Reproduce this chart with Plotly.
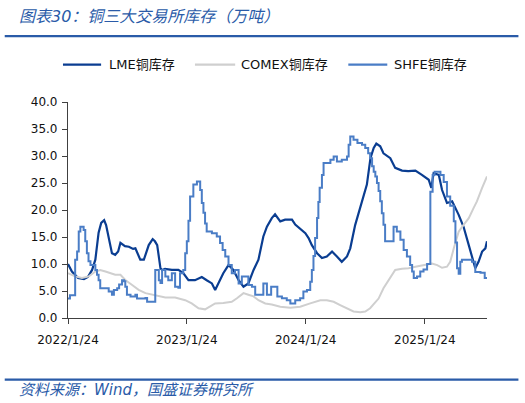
import plotly.graph_objects as go

# ---------------- data (万吨) ----------------
lme_dates = ["2022-01-24","2022-02-05","2022-02-24","2022-03-14","2022-03-26","2022-04-08","2022-04-18","2022-04-28",
             "2022-05-06","2022-05-15","2022-05-21","2022-05-29","2022-06-08","2022-06-18","2022-06-27","2022-07-04",
             "2022-07-18","2022-07-30","2022-08-12","2022-08-19","2022-08-27","2022-09-03","2022-09-14","2022-09-21",
             "2022-09-29","2022-10-11","2022-10-18","2022-10-25","2022-11-04","2022-11-09","2022-11-18","2022-12-09",
             "2022-12-29","2023-01-13","2023-01-29","2023-02-18","2023-03-11","2023-03-26","2023-04-11","2023-04-21",
             "2023-05-01","2023-05-16","2023-06-01","2023-06-16","2023-07-02","2023-07-17","2023-08-01","2023-08-17",
             "2023-09-01","2023-09-16","2023-09-27","2023-10-12","2023-10-22","2023-11-07","2023-11-22","2023-12-13",
             "2023-12-23","2024-01-07","2024-01-23","2024-02-02","2024-02-12","2024-02-28","2024-03-14","2024-03-29",
             "2024-04-14","2024-04-29","2024-05-14","2024-05-30","2024-06-09","2024-06-24","2024-07-05","2024-07-20",
             "2024-07-30","2024-08-10","2024-08-20","2024-08-28","2024-09-09","2024-09-19","2024-10-10","2024-10-25",
             "2024-11-15","2024-12-04","2024-12-26","2025-01-15","2025-02-05","2025-02-13","2025-02-20","2025-03-08",
             "2025-03-18","2025-04-02","2025-04-18","2025-05-08","2025-05-23","2025-06-08","2025-06-18","2025-06-28",
             "2025-07-08","2025-07-19","2025-07-29","2025-08-03"]
lme_values = [10.0, 8.6, 7.4, 7.2, 7.6, 8.9, 10.8, 15.8,
              17.6, 18.1, 17.2, 14.8, 12.0, 11.7, 12.3, 13.9,
              13.3, 13.2, 12.8, 12.9, 11.8, 10.8, 10.8, 12.3,
              13.5, 14.6, 14.2, 13.5, 9.2, 8.9, 9.1, 8.9,
              8.9, 8.3, 7.0, 7.0, 7.6, 7.0, 6.4, 5.2,
              6.4, 8.3, 9.8, 8.9, 7.0, 5.8, 6.4, 8.9,
              10.8, 15.1, 16.9, 18.5, 19.2, 17.9, 18.2, 18.2,
              17.3, 16.6, 15.7, 14.8, 13.5, 12.0, 11.1, 11.4,
              12.3, 11.4, 10.4, 11.4, 12.9, 17.2, 19.4, 22.5,
              24.7, 29.6, 31.5, 32.3, 31.8, 30.5, 29.6, 27.8,
              27.3, 27.2, 27.3, 26.5, 25.6, 24.1, 26.8, 26.5,
              23.7, 21.3, 21.6, 19.1, 16.9, 13.5, 11.1, 9.2,
              10.4, 12.3, 12.9, 14.2]

comex_dates = ["2022-01-24","2022-02-15","2022-03-08","2022-03-29","2022-04-18","2022-05-03","2022-05-19","2022-06-02",
               "2022-06-18","2022-07-04","2022-07-19","2022-08-09","2022-08-29","2022-09-19","2022-10-09","2022-10-30",
               "2022-11-19","2022-12-19","2023-01-19","2023-02-08","2023-03-01","2023-03-21","2023-04-06","2023-04-21",
               "2023-05-16","2023-06-11","2023-06-27","2023-07-17","2023-08-01","2023-08-17","2023-09-01","2023-09-22",
               "2023-10-12","2023-11-07","2023-12-08","2024-01-07","2024-02-07","2024-03-09","2024-03-29","2024-04-19",
               "2024-05-09","2024-05-30","2024-06-19","2024-07-10","2024-07-25","2024-08-09","2024-08-25","2024-09-04",
               "2024-09-19","2024-10-05","2024-10-25","2024-11-15","2024-12-05","2024-12-26","2025-01-26","2025-02-15",
               "2025-03-03","2025-03-18","2025-04-02","2025-04-12","2025-04-23","2025-05-08","2025-05-23","2025-06-08",
               "2025-06-23","2025-07-03","2025-07-19","2025-08-03"]
comex_values = [8.3, 7.7, 7.4, 7.7, 8.6, 8.9, 8.6, 8.3,
                8.0, 8.0, 7.05, 6.1, 5.2, 4.6, 4.3, 4.0,
                3.8, 3.8, 3.3, 2.7, 1.8, 1.6, 2.1, 2.7,
                2.8, 3.0, 3.65, 4.6, 4.3, 4.0, 3.3, 2.7,
                2.5, 2.1, 1.9, 2.1, 2.7, 3.3, 3.3, 3.0,
                2.4, 1.8, 1.2, 1.05, 1.2, 1.8, 3.0, 3.6,
                5.5, 7.05, 8.9, 9.1, 9.2, 9.5, 9.8, 10.1,
                9.8, 9.3, 9.5, 10.4, 12.9, 16.0, 17.25, 18.5,
                20.4, 21.6, 24.1, 26.2]

shfe_dates = ["2022-01-24","2022-01-30","2022-02-15","2022-02-21","2022-02-26","2022-03-03","2022-03-13","2022-03-18",
              "2022-03-23","2022-03-28","2022-04-03","2022-04-18","2022-04-23","2022-04-28","2022-05-03","2022-05-29",
              "2022-06-08","2022-06-14","2022-06-24","2022-06-30","2022-07-09","2022-07-15","2022-07-19","2022-07-24",
              "2022-08-04","2022-08-19","2022-08-24","2022-09-19","2022-09-24","2022-10-19","2022-10-30","2022-11-04",
              "2022-11-09","2022-11-19","2022-11-28","2022-12-09","2022-12-19","2022-12-29","2023-01-03","2023-01-13",
              "2023-01-19","2023-01-24","2023-01-29","2023-02-03","2023-02-13","2023-02-24","2023-03-06","2023-03-11",
              "2023-03-16","2023-03-21","2023-03-26","2023-04-11","2023-04-26","2023-05-06","2023-05-14","2023-05-22",
              "2023-06-01","2023-06-11","2023-06-21","2023-07-02","2023-07-12","2023-08-01","2023-08-12","2023-08-22",
              "2023-09-16","2023-09-27","2023-10-10","2023-10-29","2023-11-12","2023-11-27","2023-12-08","2023-12-23",
              "2024-01-07","2024-01-17","2024-01-28","2024-02-07","2024-02-12","2024-02-17","2024-02-22","2024-02-28",
              "2024-03-03","2024-03-07","2024-03-14","2024-03-19","2024-04-09","2024-04-19","2024-04-29","2024-05-14",
              "2024-05-30","2024-06-04","2024-06-09","2024-06-19","2024-07-01","2024-07-15","2024-07-25","2024-08-03",
              "2024-08-09","2024-08-15","2024-08-20","2024-08-25","2024-08-30","2024-09-04","2024-09-09","2024-09-14",
              "2024-09-19","2024-09-24","2024-10-20","2024-10-30","2024-11-10","2024-11-20","2024-11-30","2024-12-10",
              "2024-12-16","2024-12-21","2024-12-31","2025-01-10","2025-01-20","2025-01-31","2025-02-10","2025-02-17",
              "2025-02-23","2025-03-13","2025-03-23","2025-04-02","2025-04-12","2025-04-23","2025-04-28","2025-05-03",
              "2025-05-08","2025-05-13","2025-05-18","2025-06-18","2025-06-28","2025-07-14","2025-07-27","2025-08-03"]
shfe_values = [3.6, 4.2, 10.8, 12.3, 16.0, 16.9, 16.3, 14.2,
               12.0, 10.5, 9.8, 8.9, 8.0, 7.0, 5.5, 4.9,
               4.3, 5.2, 5.5, 6.2, 7.0, 6.8, 5.8, 4.3,
               4.0, 4.3, 3.6, 3.7, 3.0, 8.9, 7.0, 6.5,
               8.9, 7.7, 7.0, 8.3, 5.8, 5.6, 8.3, 8.9,
               12.0, 14.2, 18.0, 22.5, 24.7, 25.3, 23.7, 21.3,
               19.5, 17.5, 16.0, 15.7, 15.1, 13.9, 12.6, 11.4,
               9.8, 8.3, 8.9, 6.4, 7.7, 6.1, 5.8, 4.3,
               6.4, 4.3, 5.8, 4.0, 3.65, 3.3, 2.7, 3.3,
               3.65, 4.9, 5.2, 6.7, 8.9, 11.5, 14.8, 18.5,
               21.5, 24.1, 26.5, 28.7, 29.3, 29.9, 29.0, 29.3,
               29.9, 32.1, 33.6, 33.0, 32.4, 32.1, 31.5, 30.5,
               29.6, 28.1, 27.1, 26.2, 25.0, 23.5, 21.6, 19.4,
               17.25, 14.2, 16.9, 16.0, 14.5, 12.6, 11.4, 9.8,
               8.6, 7.4, 7.7, 8.6, 9.0, 10.0, 23.4, 26.5,
               27.1, 26.5, 25.2, 22.5, 20.8, 17.9, 14.0, 9.2,
               8.2, 10.4, 10.8, 10.4, 8.5, 8.4, 7.4, 7.4]

tick_dates = ["2022-01-24", "2023-01-24", "2024-01-24", "2025-01-24"]
tick_labels = ["2022/1/24", "2023/1/24", "2024/1/24", "2025/1/24"]
y_ticks = [0, 5, 10, 15, 20, 25, 30, 35, 40]

series_names = ["LME铜库存", "COMEX铜库存", "SHFE铜库存"]
series_colors = ["#0A3D91", "#CFCFCF", "#4A7DC6"]
title_text = "图表30：铜三大交易所库存（万吨）"
source_text = "资料来源：Wind，国盛证券研究所"

# ---------------- figure ----------------
FONT = "DejaVu Sans, Noto Sans CJK SC, sans-serif"
BLUE = "#2A5BA8"

fig = go.Figure()
fig.add_trace(go.Scatter(x=lme_dates, y=lme_values, name=series_names[0], mode="lines",
                         line=dict(color=series_colors[0], width=2.2)))
fig.add_trace(go.Scatter(x=comex_dates, y=comex_values, name=series_names[1], mode="lines",
                         line=dict(color=series_colors[1], width=2)))
fig.add_trace(go.Scatter(x=shfe_dates, y=shfe_values, name=series_names[2], mode="lines",
                         line=dict(color=series_colors[2], width=2, shape="hv")))

fig.update_layout(
    width=525, height=403,
    margin=dict(l=68, r=38, t=102, b=85),
    paper_bgcolor="white", plot_bgcolor="white",
    font=dict(family=FONT, size=12, color="#111111"),
    showlegend=False,
    xaxis=dict(type="date", range=["2022-01-24", "2025-08-03"],
               tickmode="array", tickvals=tick_dates, ticktext=tick_labels,
               showline=True, linecolor="#404040", linewidth=1.2,
               ticks="outside", ticklen=5, tickcolor="#404040", tickwidth=1,
               ticklabelstandoff=5,
               showgrid=False, zeroline=False, tickfont=dict(size=12, color="#111111")),
    yaxis=dict(range=[0, 40], tickmode="array", tickvals=y_ticks,
               tickformat=".1f",
               showline=True, linecolor="#404040", linewidth=1.2,
               ticks="outside", ticklen=5, tickcolor="#404040", tickwidth=1,
               ticklabelstandoff=2,
               showgrid=False, zeroline=False, tickfont=dict(size=12, color="#111111")),
)

# legend (drawn as key lines + labels at the top)
legend_line_x = [(-0.012, 0.079), (0.303, 0.399), (0.669, 0.762)]
legend_text_x = [0.093, 0.408, 0.774]
LEG_Y = 1.173
for i, name in enumerate(series_names):
    x0, x1 = legend_line_x[i]
    fig.add_shape(type="line", xref="paper", yref="paper", x0=x0, x1=x1, y0=LEG_Y, y1=LEG_Y,
                  line=dict(color=series_colors[i], width=2.4))
    fig.add_annotation(xref="paper", yref="paper", x=legend_text_x[i], y=LEG_Y,
                       xanchor="left", yanchor="middle", align="left", showarrow=False,
                       text=name, font=dict(family=FONT, size=13, color="#111111"))

# header / footer decorations
fig.add_annotation(xref="paper", yref="paper", x=-0.122, y=1.397, xanchor="left", yanchor="middle",
                   align="left", text="<i>" + title_text + "</i>", showarrow=False,
                   font=dict(family=FONT, size=16, color=BLUE))
fig.add_shape(type="line", xref="paper", yref="paper", x0=-0.151, x1=1.075, y0=1.305, y1=1.305,
              line=dict(color=BLUE, width=2.2))
fig.add_shape(type="line", xref="paper", yref="paper", x0=-0.151, x1=1.075, y0=-0.285, y1=-0.285,
              line=dict(color=BLUE, width=2.2))
fig.add_annotation(xref="paper", yref="paper", x=-0.122, y=-0.332, xanchor="left", yanchor="middle",
                   align="left", text="<i>" + source_text + "</i>", showarrow=False,
                   font=dict(family=FONT, size=15, color=BLUE))

fig.write_html("out.html", config={"displayModeBar": False},
               post_script="document.body.style.margin='0px';document.body.style.overflow='hidden';")
